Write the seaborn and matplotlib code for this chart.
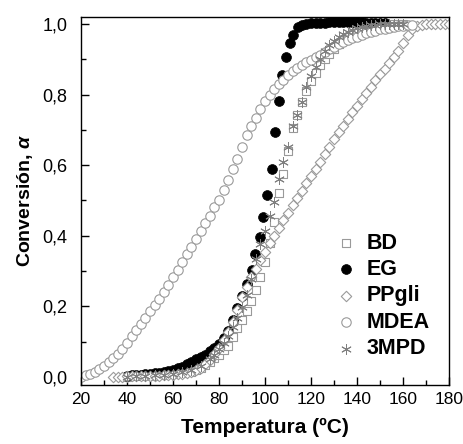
import matplotlib
matplotlib.use("Agg")
import matplotlib.pyplot as plt
from matplotlib.ticker import MultipleLocator, FuncFormatter
import seaborn as sns
import pandas as pd

# ---------------- data ----------------
bd_T = [40, 44, 48, 52, 56, 60, 64, 68, 70, 72, 74, 76, 78, 80, 82, 84, 86, 88, 90,
        92, 94, 96, 98, 100, 102, 104, 106, 108, 110, 112, 114, 116, 118, 120, 122,
        124, 126, 128, 130, 132, 134, 136, 138, 140, 142, 144, 146, 148, 150, 152,
        154, 156, 158, 160]
bd_a = [0.000, 0.001, 0.002, 0.003, 0.005, 0.007, 0.010, 0.015, 0.020, 0.025, 0.033,
        0.042, 0.052, 0.063, 0.075, 0.088, 0.112, 0.138, 0.162, 0.186, 0.215, 0.245,
        0.283, 0.325, 0.380, 0.440, 0.520, 0.575, 0.640, 0.705, 0.742, 0.778, 0.810,
        0.838, 0.862, 0.884, 0.900, 0.915, 0.930, 0.943, 0.954, 0.964, 0.972, 0.979,
        0.985, 0.989, 0.992, 0.995, 0.997, 0.998, 0.999, 1.000, 1.000, 1.000]

eg_T = [40, 42, 44, 46, 48, 50, 52, 54, 56, 58, 60, 62, 64, 66, 68, 70, 72, 74, 76,
        78, 80, 82, 84, 86, 88, 90, 92, 94.2, 95.8, 97.6, 99.3, 101.0, 102.8, 104.5,
        106.0, 107.4, 109.2, 110.8, 112.3, 114.2, 116, 118, 120, 122, 124, 126, 128,
        130, 132, 134, 136, 138, 140, 142, 144, 146, 148, 150, 152]
eg_a = [0.003, 0.004, 0.005, 0.006, 0.007, 0.009, 0.010, 0.012, 0.015, 0.017, 0.020,
        0.024, 0.029, 0.035, 0.042, 0.050, 0.056, 0.063, 0.072, 0.082, 0.094, 0.110,
        0.130, 0.160, 0.195, 0.230, 0.262, 0.302, 0.348, 0.397, 0.454, 0.516, 0.590,
        0.695, 0.783, 0.855, 0.907, 0.945, 0.969, 0.990, 0.997, 1.000, 1.002, 1.003,
        1.004, 1.004, 1.005, 1.005, 1.005, 1.005, 1.005, 1.005, 1.005, 1.005, 1.004,
        1.004, 1.004, 1.003, 1.003]

pp_T = [34, 36, 38, 40, 42, 44, 46, 48, 50, 52, 54, 56, 58, 60, 62, 64, 66, 68, 70,
        72, 74, 76, 78, 80, 82, 84, 86, 88, 90, 92, 94, 96, 98, 100, 102, 104, 106,
        108, 110, 112, 114, 116, 118, 120, 122, 124, 126, 128, 130, 132, 134, 136,
        138, 140, 142, 144, 146, 148, 150, 152, 154, 156, 158, 160, 162, 164, 166,
        168, 170, 172, 174, 176, 178, 180]
pp_a = [0.000, 0.000, 0.000, 0.001, 0.001, 0.001, 0.002, 0.002, 0.002, 0.003, 0.003,
        0.004, 0.005, 0.006, 0.007, 0.009, 0.011, 0.014, 0.018, 0.026, 0.036, 0.048,
        0.064, 0.082, 0.103, 0.127, 0.155, 0.188, 0.225, 0.255, 0.282, 0.306, 0.331,
        0.355, 0.378, 0.400, 0.422, 0.443, 0.465, 0.486, 0.506, 0.527, 0.548, 0.569,
        0.590, 0.610, 0.632, 0.652, 0.673, 0.693, 0.712, 0.732, 0.750, 0.768, 0.786,
        0.804, 0.822, 0.840, 0.857, 0.873, 0.890, 0.906, 0.923, 0.946, 0.970, 0.985,
        0.994, 0.998, 0.999, 1.000, 1.000, 1.000, 1.000, 1.000]

md_T = [20, 22, 24, 26, 28, 30, 32, 34, 36, 38, 40, 42, 44, 46, 48, 50, 52, 54, 56,
        58, 60, 62, 64, 66, 68, 70, 72, 74, 76, 78, 80, 82, 84, 86, 88, 90, 92, 94,
        96, 98, 100, 102, 104, 106, 108, 110, 112, 114, 116, 118, 120, 122, 124, 126,
        128, 130, 132, 134, 136, 138, 140, 142, 144, 146, 148, 150, 152, 154, 156,
        158, 160, 162, 164]
md_a = [0.000, 0.004, 0.009, 0.015, 0.022, 0.031, 0.041, 0.053, 0.066, 0.079, 0.097,
        0.115, 0.133, 0.150, 0.168, 0.186, 0.203, 0.221, 0.240, 0.260, 0.282, 0.303,
        0.325, 0.347, 0.369, 0.391, 0.412, 0.435, 0.457, 0.480, 0.502, 0.530, 0.559,
        0.588, 0.618, 0.650, 0.685, 0.710, 0.733, 0.758, 0.781, 0.800, 0.815, 0.829,
        0.842, 0.855, 0.866, 0.876, 0.884, 0.892, 0.899, 0.905, 0.913, 0.921, 0.928,
        0.935, 0.942, 0.949, 0.954, 0.959, 0.964, 0.968, 0.973, 0.977, 0.981, 0.985,
        0.987, 0.989, 0.991, 0.993, 0.994, 0.996, 0.997]

mp_T = [40, 44, 48, 52, 56, 60, 64, 68, 72, 76, 78, 80, 82, 84, 86, 88, 90, 92, 94,
        96, 98, 100, 102, 104, 106, 108, 110, 112, 114, 116, 118, 120, 122, 124, 126,
        128, 130, 132, 134, 136, 138, 140, 142, 144, 146, 148, 150, 152, 154, 156,
        158, 160]
mp_a = [0.000, 0.001, 0.002, 0.004, 0.006, 0.009, 0.013, 0.020, 0.032, 0.050, 0.062,
        0.078, 0.095, 0.115, 0.140, 0.168, 0.198, 0.232, 0.278, 0.335, 0.375, 0.412,
        0.455, 0.495, 0.560, 0.610, 0.650, 0.712, 0.742, 0.780, 0.822, 0.852, 0.878,
        0.900, 0.922, 0.940, 0.953, 0.963, 0.972, 0.978, 0.984, 0.988, 0.991, 0.994,
        0.996, 0.998, 0.999, 1.000, 1.000, 1.000, 1.000, 1.000]

labels = ["BD", "EG", "PPgli", "MDEA", "3MPD"]
x_ticks = [20, 40, 60, 80, 100, 120, 140, 160, 180]
y_ticks = [0.0, 0.2, 0.4, 0.6, 0.8, 1.0]

# ---------------- style ----------------
sns.set_style("ticks")
plt.rcParams["font.family"] = ["Liberation Sans", "DejaVu Sans"]
plt.rcParams["mathtext.fontset"] = "custom"
plt.rcParams["mathtext.it"] = "Liberation Sans:italic:bold"
for k in ["text.color", "axes.labelcolor", "xtick.color", "ytick.color",
          "axes.edgecolor"]:
    plt.rcParams[k] = "black"

fig = plt.figure(figsize=(4.63, 4.44), dpi=100)
ax = fig.add_axes([0.175, 0.133, 0.795, 0.829])

gray = "#9a9a9a"
series = [
    (bd_T, bd_a, "s", dict(s=34, facecolor="white", edgecolor=gray, linewidth=0.8)),
    (eg_T, eg_a, "o", dict(s=50, color="black", edgecolor="black", linewidth=0.5)),
    (pp_T, pp_a, "D", dict(s=28, facecolor="white", edgecolor=gray, linewidth=0.8)),
    (md_T, md_a, "o", dict(s=46, facecolor="white", edgecolor=gray, linewidth=0.8)),
    (mp_T, mp_a, (6, 2, 0), dict(s=50, color="#808080", linewidth=0.7)),
]
for (T, a, m, kw), lab in zip(series, labels):
    df = pd.DataFrame({"T": T, "a": a})
    sns.scatterplot(data=df, x="T", y="a", marker=m, ax=ax, label=lab, **kw)

ax.set_xlim(20, 180)
ax.set_ylim(-0.023, 1.02)
ax.set_xticks(x_ticks)
ax.set_yticks(y_ticks)
ax.xaxis.set_minor_locator(MultipleLocator(10))
ax.yaxis.set_minor_locator(MultipleLocator(0.1))
ax.yaxis.set_major_formatter(FuncFormatter(lambda v, p: f"{v:.1f}".replace(".", ",")))
ax.tick_params(which="major", direction="in", length=6, width=1.0, colors="black")
ax.tick_params(axis="x", which="major", labelsize=12.5, pad=5)
ax.tick_params(axis="y", which="major", labelsize=13, pad=10)
ax.tick_params(which="minor", direction="in", length=3.5, width=1.0)
for sp in ax.spines.values():
    sp.set_linewidth(1.0)
    sp.set_color("black")

ax.set_xlabel("Temperatura (ºC)", fontsize=15, fontweight="bold", labelpad=8)
ax.set_ylabel("Conversión, $\\mathit{\\alpha}$", fontsize=14, fontweight="bold",
              labelpad=5)

leg = ax.legend(loc="upper left", bbox_to_anchor=(0.69, 0.51),
                bbox_transform=fig.transFigure, frameon=False,
                prop={"weight": "bold", "size": 15.5}, handletextpad=0.4,
                labelspacing=0.25, borderpad=0.2, handlelength=1.1)

fig.savefig("out.png", dpi=100)
